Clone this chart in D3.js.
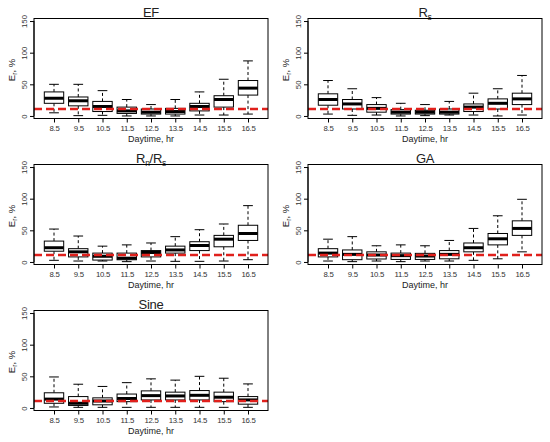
<!DOCTYPE html>
<html>
<head>
<meta charset="utf-8">
<script src="https://cdn.jsdelivr.net/npm/d3@7"></script>
<style>
  body { margin: 0; background: #fff; }
  text { font-family: "Liberation Sans", Arial, sans-serif; fill: #222; }
</style>
</head>
<body>
<div id="chart"></div>
<script>
// hours on the x axis
let hours = ["8.5", "9.5", "10.5", "11.5", "12.5", "13.5", "14.5", "15.5", "16.5"];
let yTicks = [0, 50, 100, 150];
let refLine = 11;

// each box: [lower whisker, Q1, median, Q3, upper whisker]
let efBoxes = [
  [5, 20, 28, 38, 50], [0.5, 16, 24, 30, 50], [1, 7, 15, 23, 40],
  [0, 4, 8, 14, 26], [0, 3, 6, 11, 18], [0, 3, 7, 12, 26],
  [1.5, 8, 15, 20, 38], [1.5, 14, 26, 32, 58], [3, 33, 44, 56, 87]
];
let rsBoxes = [
  [3, 17, 26, 35, 56], [1, 11, 19, 26, 43], [1.5, 6, 12, 18, 29],
  [0, 3, 6, 10, 20], [0.5, 3, 6, 9, 18], [1.5, 3, 6, 11, 23],
  [1.5, 7, 14, 19, 36], [0, 11, 20, 27, 43], [1.5, 18, 27, 36, 64]
];
let rnrsBoxes = [
  [2.6, 17, 22.5, 33, 52], [1.5, 8, 16, 21, 41], [1.5, 3, 9, 14, 25],
  [0.5, 3.5, 6, 14, 27], [1.5, 8, 15, 18, 30], [1, 14, 19, 25, 40],
  [1, 18, 26, 32, 51], [1.5, 24, 36, 42, 60], [3.6, 34, 45, 58, 89]
];
let gaBoxes = [
  [1.5, 8, 14, 21, 36], [0.5, 3.6, 12, 19, 40], [1.5, 4.7, 11, 16, 25.6],
  [0.5, 4, 10, 14, 27], [1.5, 4, 9.4, 13.6, 25.6], [1.5, 5, 12, 18, 34],
  [2.6, 16, 22.5, 30, 53], [5, 27, 36.6, 45, 73], [16, 42, 53, 65, 99]
];
let sineBoxes = [
  [1.6, 7.4, 14, 24, 49], [1, 4, 7.4, 18, 37.5], [1, 5, 11, 16, 34],
  [1, 10, 15, 22, 40], [1, 12.7, 19.5, 27, 46], [1, 12.7, 19, 25, 44],
  [1, 12.7, 20, 27.5, 50], [1, 10, 17, 25, 47], [1, 6, 12.7, 18, 38]
];

let panels = [
  { title: ["EF"], boxes: efBoxes, dx: 0, dy: 0 },
  { title: ["R", "s"], boxes: rsBoxes, dx: 274, dy: 0 },
  { title: ["R", "n", "/R", "s"], boxes: rnrsBoxes, dx: 0, dy: 146 },
  { title: ["GA"], boxes: gaBoxes, dx: 274, dy: 146 },
  { title: ["Sine"], boxes: sineBoxes, dx: 0, dy: 292 }
];

let svg = d3.select("#chart")
  .append("svg")
  .attr("width", 550)
  .attr("height", 442);

// plot frame inside each panel
let pLeft = 34, pRight = 268, pTop = 18.5, pBottom = 118.5;

let x = d3.scalePoint().domain(hours).range([54, 248]);
let y = d3.scaleLinear().domain([-4, 154]).range([pBottom, pTop]);
let step = x.step();
let boxW = step * 0.8;

panels.forEach((p) => {
  let g = svg.append("g").attr("transform", `translate(${p.dx},${p.dy})`);

  // title, with subscripts at odd positions
  let t = g.append("text")
    .attr("x", (pLeft + pRight) / 2)
    .attr("y", 16.5)
    .attr("text-anchor", "middle")
    .style("font-size", "13px")
    .style("letter-spacing", "-0.3px");
  p.title.forEach((part, i) => {
    t.append("tspan")
      .text(part)
      .style("font-size", i % 2 ? "8.5px" : "13px")
      .attr("dy", i % 2 ? 3 : (i > 0 ? -3 : 0));
  });

  // boxes
  p.boxes.forEach((b, i) => {
    let cx = x(hours[i]);
    let [lo, q1, med, q3, hi] = b;
    // whiskers
    g.append("line")
      .attr("x1", cx).attr("x2", cx)
      .attr("y1", y(q3)).attr("y2", y(hi))
      .attr("stroke", "#000").attr("stroke-dasharray", "3,2.5");
    g.append("line")
      .attr("x1", cx).attr("x2", cx)
      .attr("y1", y(q1)).attr("y2", y(lo))
      .attr("stroke", "#000").attr("stroke-dasharray", "3,2.5");
    [lo, hi].forEach((v) => {
      g.append("line")
        .attr("x1", cx - boxW / 4).attr("x2", cx + boxW / 4)
        .attr("y1", y(v)).attr("y2", y(v))
        .attr("stroke", "#000");
    });
    g.append("rect")
      .attr("x", cx - boxW / 2)
      .attr("y", y(q3))
      .attr("width", boxW)
      .attr("height", y(q1) - y(q3))
      .attr("fill", "#fff")
      .attr("stroke", "#000");
    g.append("line")
      .attr("x1", cx - boxW / 2).attr("x2", cx + boxW / 2)
      .attr("y1", y(med)).attr("y2", y(med))
      .attr("stroke", "#000").attr("stroke-width", 3);
  });

  // red reference line
  g.append("line")
    .attr("x1", pLeft).attr("x2", pRight)
    .attr("y1", y(refLine)).attr("y2", y(refLine))
    .attr("stroke", "#e0201c")
    .attr("stroke-width", 2.5)
    .attr("stroke-dasharray", "8,4");

  // frame
  g.append("rect")
    .attr("x", pLeft).attr("y", pTop)
    .attr("width", pRight - pLeft).attr("height", pBottom - pTop)
    .attr("fill", "none").attr("stroke", "#000");

  // axes
  let xAxis = g.append("g")
    .attr("transform", `translate(0,${pBottom})`)
    .call(d3.axisBottom(x).tickSize(4).tickSizeOuter(0).tickPadding(3));
  xAxis.select(".domain").attr("d", `M${x(hours[0])},0H${x(hours[8])}`);
  xAxis.selectAll("text")
    .style("font-size", "7.8px")
    .style("letter-spacing", "-0.3px")
    .style("fill", "#333");

  let yAxis = g.append("g")
    .attr("transform", `translate(${pLeft},0)`)
    .call(d3.axisLeft(y).tickValues(yTicks).tickSize(4).tickSizeOuter(0));
  yAxis.select(".domain").attr("d", `M0,${y(0)}V${y(150)}`);
  yAxis.selectAll(".tick text")
    .attr("x", null).attr("dy", null)
    .attr("text-anchor", "middle")
    .attr("transform", "translate(-7.5,0) rotate(-90)")
    .style("font-size", "7.8px")
    .style("fill", "#333");

  // axis titles
  g.append("text")
    .attr("x", (pLeft + pRight) / 2)
    .attr("y", 141.5)
    .attr("text-anchor", "middle")
    .style("font-size", "9px")
    .text("Daytime, hr");

  let yl = g.append("text")
    .attr("transform", `translate(15,70) rotate(-90)`)
    .attr("text-anchor", "middle")
    .style("font-size", "9.5px");
  yl.append("tspan").text("E");
  yl.append("tspan").text("r").style("font-size", "6.5px").attr("dy", 2);
  yl.append("tspan").text(", %").attr("dy", -2);
});
</script>
</body>
</html>
